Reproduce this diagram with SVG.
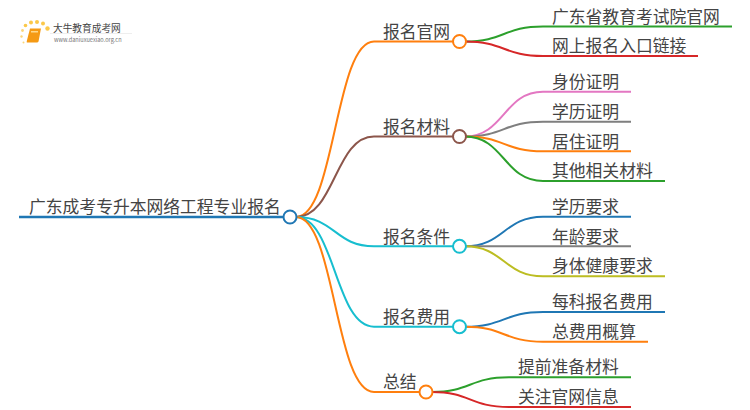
<svg xmlns="http://www.w3.org/2000/svg" width="750" height="410" viewBox="0 0 750 410">
<style>
text{font-family:"Noto Sans CJK SC","Noto Sans",sans-serif;font-size:16.8px;fill:#444;}
.c path{fill:none;stroke-width:2;}
.c .t{stroke-width:2.5}
.n{fill:#fff;stroke-width:2;}
.b{stroke:#1f77b4}.o{stroke:#ff7f0e}.g{stroke:#2ca02c}.r{stroke:#d62728}.m{stroke:#8c564b}.p{stroke:#e377c2}.y{stroke:#7f7f7f}.l{stroke:#bcbd22}.q{stroke:#17becf}
</style>
<rect width="750" height="410" fill="#fff"/>
<g id="logo">
<path d="M30 28.500H41L38.500 41.500Q38 42.500 37 42.500H27Q26.500 42.500 26.800 41Z" fill="#f59a14"/>
<rect x="31" y="31" width="7" height="1.500" fill="#ffd98a"/>
<circle cx="25.500" cy="25.500" r="1.800" fill="#fbc84a"/><circle cx="31" cy="22.500" r="2" fill="#fbc84a"/><circle cx="37" cy="22" r="2" fill="#fbc84a"/><circle cx="43" cy="23.500" r="2" fill="#fbc84a"/><circle cx="47.500" cy="28.500" r="2.200" fill="#fbc84a"/><circle cx="22.500" cy="30.500" r="1.400" fill="#fbd67a"/><circle cx="21.500" cy="36.500" r="1.200" fill="#fbd67a"/><circle cx="23.500" cy="42.500" r="1" fill="#fbd67a"/>
<text x="53" y="32" style="font-size:9.700px;fill:#444">大牛教育成考网</text>
<rect x="50" y="33" width="82" height="1" fill="#eee"/>
<text x="54" y="41.500" style="font-size:5.600px;fill:#777">www.daniuxuexiao.org.cn</text>
</g>
<g id="connectors" class="c">
<path class="b t" d="M19 217H283"/>
<path class="o" d="M296 217C335 217 335 41.500 374 41.500H453"/>
<path class="m" d="M296 217C335 217 335 136.500 374 136.500H453"/>
<path class="q" d="M296 217C335 217 335 246.300 374 246.300H453"/>
<path class="q" d="M296 217C335 217 335 326.700 374 326.700H453"/>
<path class="o" d="M296 217C335 217 335 392 374 392H420"/>
<path class="g" d="M465 41.500C504 41.500 504 26.500 543 26.500H732"/>
<path class="r" d="M465 41.500C504 41.500 504 56 543 56H698"/>
<path class="p" d="M465 136.500C504 136.500 504 91.700 543 91.700H631"/>
<path class="y" d="M465 136.500C504 136.500 504 121.700 543 121.700H631"/>
<path class="o" d="M465 136.500C504 136.500 504 151.300 543 151.300H631"/>
<path class="g" d="M465 136.500C504 136.500 504 181 543 181H665"/>
<path class="b" d="M465 246.300C504 246.300 504 216.700 543 216.700H631"/>
<path class="y" d="M465 246.300H631"/>
<path class="l" d="M465 246.300C504 246.300 504 276.300 543 276.300H665"/>
<path class="b" d="M465 326.700C504 326.700 504 312 543 312H665"/>
<path class="o" d="M465 326.700C504 326.700 504 341.700 543 341.700H648"/>
<path class="g" d="M432 392C470 392 470 377.300 509 377.300H631"/>
<path class="r" d="M432 392C470 392 470 407 509 407H631"/>
</g>
<g id="root"><circle class="n b" cx="290" cy="217" r="6.500"/><text x="29" y="212.500">广东成考专升本网络工程专业报名</text></g>
<g id="n1"><circle class="n o" cx="459.500" cy="41.500" r="6.500"/><text x="383" y="37.500">报名官网</text></g>
<g id="n2"><circle class="n m" cx="459.500" cy="136.500" r="6.500"/><text x="383" y="132.500">报名材料</text></g>
<g id="n3"><circle class="n q" cx="459.500" cy="246.300" r="6.500"/><text x="383" y="242.500">报名条件</text></g>
<g id="n4"><circle class="n q" cx="459.500" cy="326.700" r="6.500"/><text x="383" y="322.500">报名费用</text></g>
<g id="n5"><circle class="n o" cx="426" cy="392" r="6.500"/><text x="383" y="388">总结</text></g>
<g id="l11"><text x="552" y="22.500">广东省教育考试院官网</text></g>
<g id="l12"><text x="552" y="52">网上报名入口链接</text></g>
<g id="l21"><text x="552" y="87.500">身份证明</text></g>
<g id="l22"><text x="552" y="117.500">学历证明</text></g>
<g id="l23"><text x="552" y="147.500">居住证明</text></g>
<g id="l24"><text x="552" y="177">其他相关材料</text></g>
<g id="l31"><text x="552" y="212.500">学历要求</text></g>
<g id="l32"><text x="552" y="242.500">年龄要求</text></g>
<g id="l33"><text x="552" y="272">身体健康要求</text></g>
<g id="l41"><text x="552" y="307.500">每科报名费用</text></g>
<g id="l42"><text x="552" y="337.500">总费用概算</text></g>
<g id="l51"><text x="518" y="373">提前准备材料</text></g>
<g id="l52"><text x="518" y="403">关注官网信息</text></g>
</svg>
